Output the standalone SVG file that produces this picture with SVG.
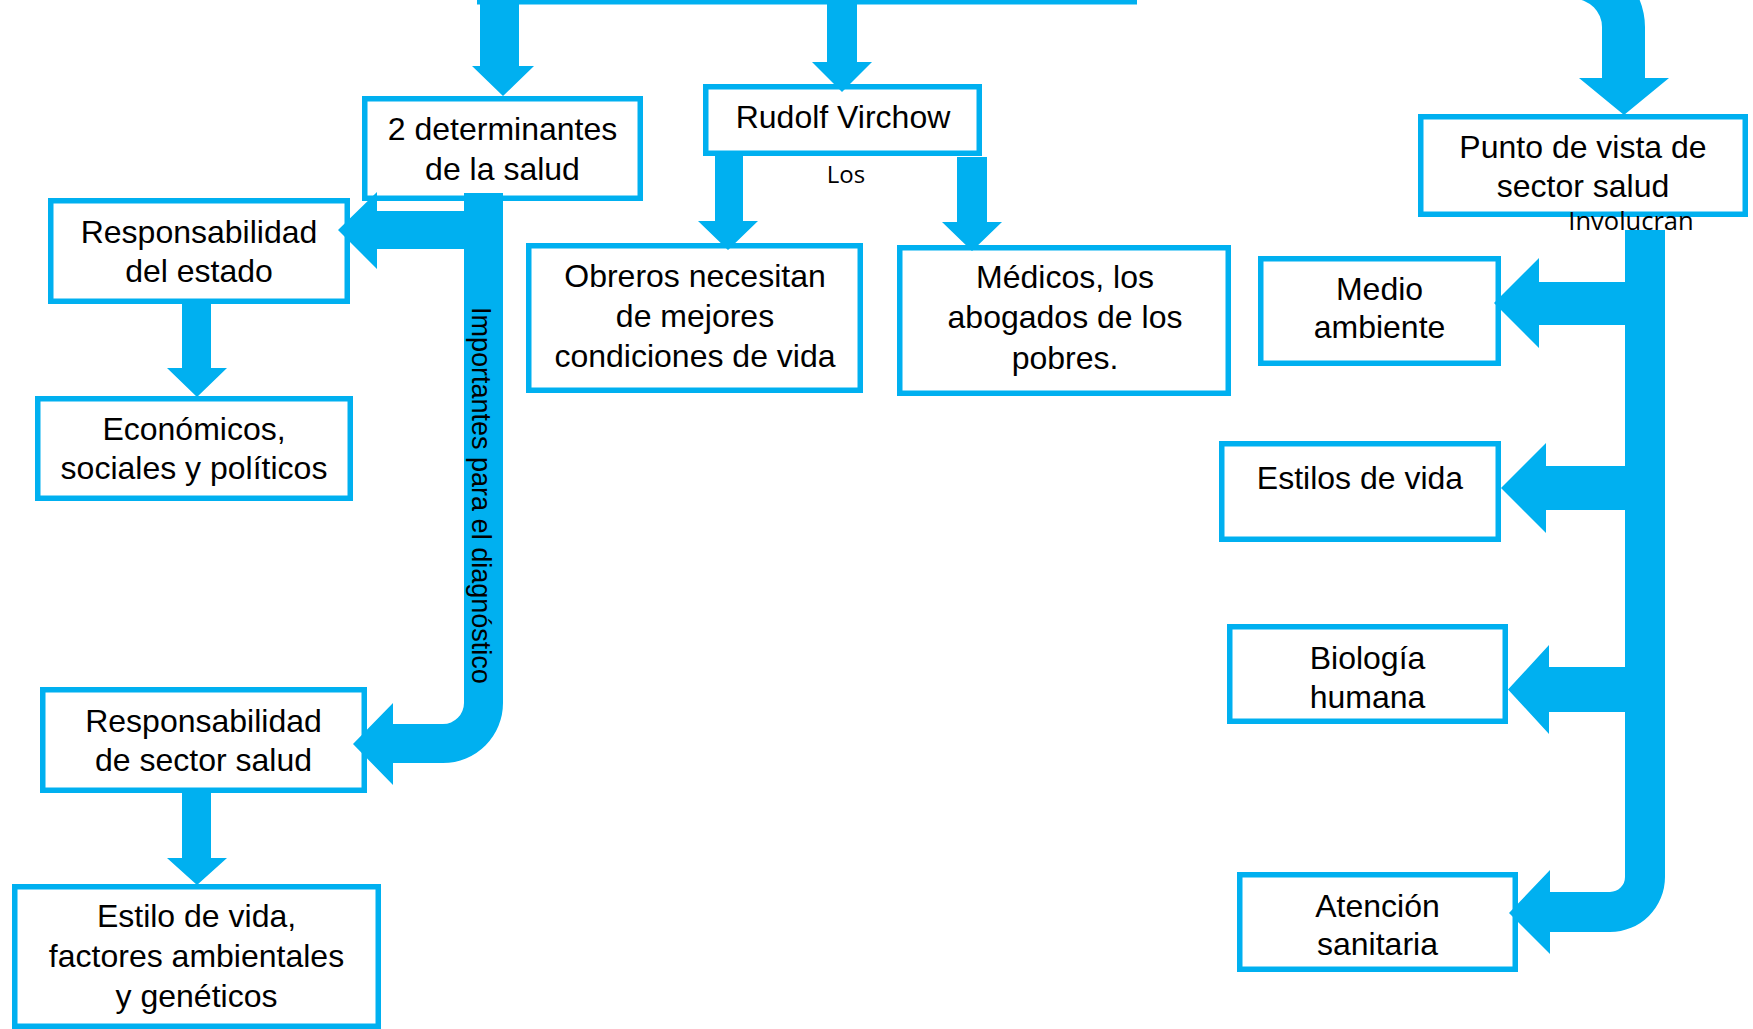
<svg xmlns="http://www.w3.org/2000/svg" width="1753" height="1029" viewBox="0 0 1753 1029">
<style>
.box{fill:#fff;stroke:#00B0F0;stroke-width:5.5}
.t{font-family:"Liberation Sans",Arial,sans-serif;font-size:32px;fill:#000;text-anchor:middle}
.s{font-family:"Open Sans","Noto Sans",sans-serif;font-size:24px;fill:#000;text-anchor:middle}
.c{fill:#00B0F0}
.v{font-family:"Liberation Sans",Arial,sans-serif;font-size:27px;fill:#000}
</style>
<rect width="1753" height="1029" fill="#fff"/>
<g id="node-det"><rect class="box" x="364.75" y="98.75" width="275.5" height="99.5"/>
<text class="t" x="502.5" y="140">2 determinantes</text><text class="t" x="502.5" y="180">de la salud</text></g>
<g id="node-rudolf"><rect class="box" x="705.75" y="86.75" width="273.5" height="66.5"/>
<text class="t" x="843" y="128">Rudolf Virchow</text></g>
<g id="node-estado"><rect class="box" x="50.75" y="200.75" width="296.5" height="100.5"/>
<text class="t" x="199" y="243">Responsabilidad</text><text class="t" x="199" y="282">del estado</text></g>
<g id="node-econ"><rect class="box" x="37.75" y="398.75" width="312.5" height="99.5"/>
<text class="t" x="194" y="440">Económicos,</text><text class="t" x="194" y="479">sociales y políticos</text></g>
<g id="node-sector"><rect class="box" x="42.75" y="689.75" width="321.5" height="100.5"/>
<text class="t" x="203.5" y="732">Responsabilidad</text><text class="t" x="203.5" y="771">de sector salud</text></g>
<g id="node-estilo"><rect class="box" x="14.75" y="886.75" width="363.5" height="139.5"/>
<text class="t" x="196.5" y="927">Estilo de vida,</text><text class="t" x="196.5" y="967">factores ambientales</text><text class="t" x="196.5" y="1007">y genéticos</text></g>
<g id="node-obreros"><rect class="box" x="528.75" y="245.75" width="331.5" height="144.5"/>
<text class="t" x="695" y="287">Obreros necesitan</text><text class="t" x="695" y="327">de mejores</text><text class="t" x="695" y="367">condiciones de vida</text></g>
<g id="node-medicos"><rect class="box" x="899.75" y="247.75" width="328.5" height="145.5"/>
<text class="t" x="1065" y="288">Médicos, los</text><text class="t" x="1065" y="328">abogados de los</text><text class="t" x="1065" y="369">pobres.</text></g>
<g id="node-punto"><rect class="box" x="1420.75" y="116.75" width="324.5" height="97.5"/>
<text class="t" x="1583" y="158">Punto de vista de</text><text class="t" x="1583" y="197">sector salud</text></g>
<g id="node-medio"><rect class="box" x="1260.75" y="258.75" width="237.5" height="104.5"/>
<text class="t" x="1379.5" y="300">Medio</text><text class="t" x="1379.5" y="338">ambiente</text></g>
<g id="node-estilos"><rect class="box" x="1221.75" y="443.75" width="276.5" height="95.5"/>
<text class="t" x="1360" y="489">Estilos de vida</text></g>
<g id="node-bio"><rect class="box" x="1229.75" y="626.75" width="275.5" height="94.5"/>
<text class="t" x="1367.5" y="669">Biología</text><text class="t" x="1367.5" y="708">humana</text></g>
<g id="node-atencion"><rect class="box" x="1239.75" y="874.75" width="275.5" height="94.5"/>
<text class="t" x="1377.5" y="917">Atención</text><text class="t" x="1377.5" y="955">sanitaria</text></g>
<g id="connectors">
<rect class="c" x="477" y="-3" width="660" height="7.5"/>
<path class="c" d="M480,0 H519 V66 H534 L503,96 L472,66 H480 Z"/>
<path class="c" d="M827,0 H857 V62 H872 L842,92 L812,62 H827 Z"/>
<path class="c" d="M715,156 H743 V221 H758 L728,250 L698,221 H715 Z"/>
<path class="c" d="M957,157 H987 V222 H1002 L972,251 L942,222 H957 Z"/>
<path class="c" d="M464,193 H503 V703 A60,60 0 0 1 443,763 H393 V785 L353,744 L393,703 V724 H443 A21,21 0 0 0 464,703 Z"/>
<path class="c" d="M464,211 V249 H377 V269 L338,230 L377,192 V211 Z"/>
<path class="c" d="M182,304 H211 V368 H227 L197,397 L167,368 H182 Z"/>
<path class="c" d="M182,793 H211 V858 H227 L197,885 L167,858 H182 Z"/>
<path class="c" d="M1500,-44 H1574 A71,71 0 0 1 1645,27 V78 H1669 L1624,115 L1579,78 H1602 V27 A28,28 0 0 0 1574,-1 H1500 Z"/>
<path class="c" d="M1625,230 H1665 V877 A55,55 0 0 1 1610,932 H1550 V954 L1509,913 L1550,870 V892 H1610 A15,15 0 0 0 1625,877 Z"/>
<path class="c" d="M1625,282 V325 H1539 V348 L1494,303 L1539,258 V282 Z"/>
<path class="c" d="M1625,466 V510 H1546 V533 L1501,488 L1546,443 V466 Z"/>
<path class="c" d="M1625,667 V712 H1549 V734 L1508,689.5 L1549,645 V667 Z"/>
<text class="s" x="846" y="183">Los</text>
<text class="s" x="1631" y="230" style="font-size:25.5px">Involucran</text>
<text class="v" transform="translate(472,307) rotate(90)">Importantes para el diagnóstico</text>
</g>
</svg>
